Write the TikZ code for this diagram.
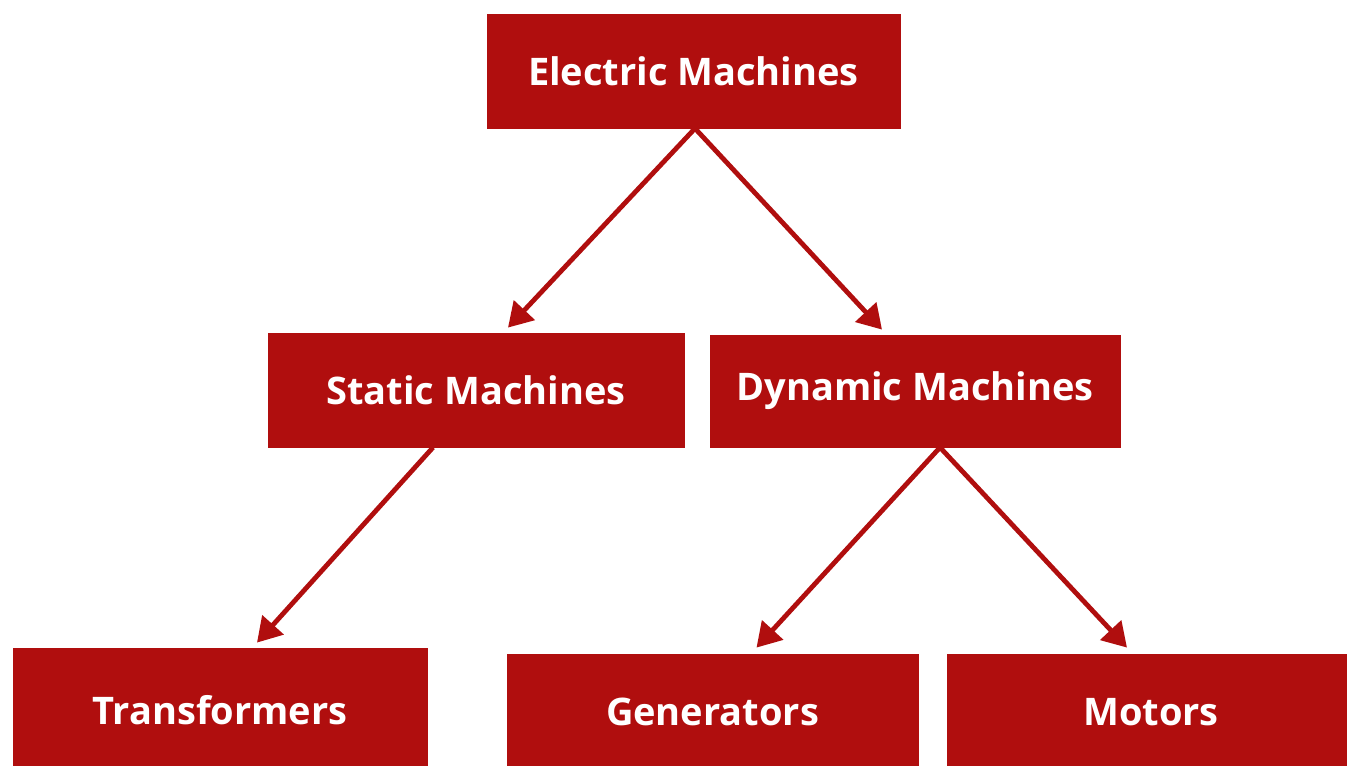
\documentclass[tikz,border=0pt]{standalone}
\usepackage{fontspec}
\setmainfont{Open Sans}
\usetikzlibrary{arrows.meta}
\definecolor{boxred}{RGB}{176,14,14}
\tikzset{
  box/.style={fill=boxred, draw=boxred, text=white, inner sep=0pt, font=\fontsize{19}{22}\selectfont\bfseries},
  arr/.style={draw=boxred, line width=2.4pt, -{Triangle[length=12pt,width=14pt]}}
}
\begin{document}
\begin{tikzpicture}[x=0.5pt,y=-0.5pt]
\clip (0,0) rectangle (1347,765);
\fill[white] (0,0) rectangle (1347,765);
\node[box, minimum width=206.5pt, minimum height=57pt] (em) at (693.5,71) {Electric Machines};
\node[box, minimum width=208pt, minimum height=57pt] (sm) at (476,390) {Static Machines};
\node[box, minimum width=205pt, minimum height=56pt] (dm) at (915,391) {Dynamic Machines};
\node[box, minimum width=207pt, minimum height=62pt] (tr) at (220,710) {Transformers};
\node[box, minimum width=205.5pt, minimum height=58pt] (gen) at (712.5,712) {Generators};
\node[box, minimum width=203.5pt, minimum height=58pt] (mot) at (1151,712) {Motors};
\draw[arr] ([xshift=0.75pt]em.south) -- ([xshift=16pt,yshift=2.5pt]sm.north);
\draw[arr] ([xshift=0.75pt]em.south) -- ([xshift=-16.5pt,yshift=2.5pt]dm.north);
\draw[arr] ([xshift=-21.5pt]sm.south) -- ([xshift=18.5pt,yshift=2.5pt]tr.north);
\draw[arr] ([xshift=12.5pt]dm.south) -- ([xshift=22pt,yshift=3pt]gen.north);
\draw[arr] ([xshift=12.5pt]dm.south) -- ([xshift=-12pt,yshift=3pt]mot.north);
\end{tikzpicture}
\end{document}
